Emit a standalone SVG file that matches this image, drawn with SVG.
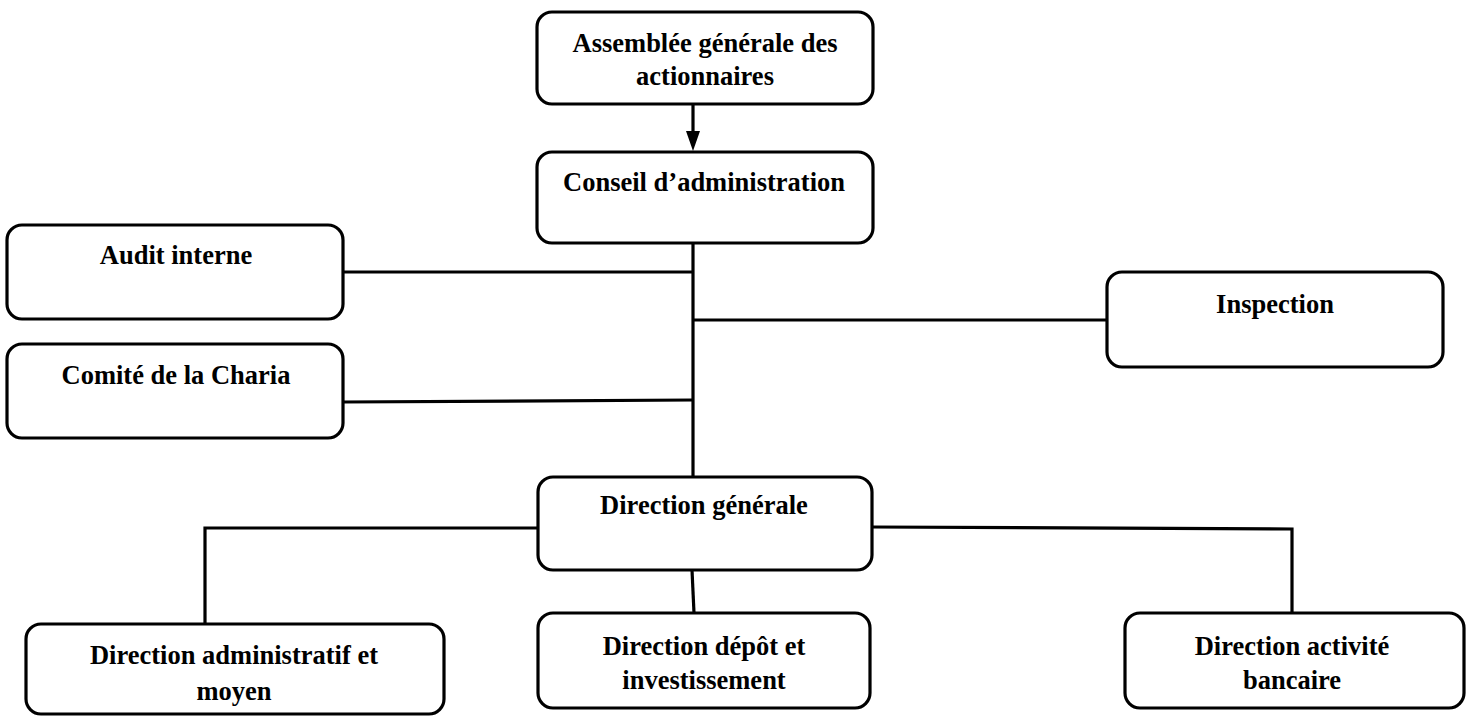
<svg xmlns="http://www.w3.org/2000/svg" width="1468" height="716" viewBox="0 0 1468 716">
<style>
.box{fill:#fff;stroke:#000;stroke-width:3.2}
.t{font-family:"Liberation Serif","Times New Roman",serif;font-weight:bold;font-size:26.5px;fill:#000;text-anchor:middle}
.c{fill:none;stroke:#000;stroke-width:3.2}
</style>
<defs>
<marker id="ah" markerUnits="userSpaceOnUse" markerWidth="16" markerHeight="20" refX="8" refY="19" orient="auto-start-reverse" viewBox="0 0 16 20">
<path d="M1,0 L15,0 L8,19 Z" fill="#000"/>
</marker>
</defs>
<rect width="1468" height="716" fill="#fff"/>
<g id="connectors">
<line class="c" x1="693" y1="105" x2="693" y2="131"/>
<path d="M686,131 L700,131 L693,151 Z" fill="#000"/>
<line class="c" x1="693" y1="243" x2="693" y2="477"/>
<line class="c" x1="343" y1="272" x2="693" y2="272"/>
<line class="c" x1="693" y1="320" x2="1107" y2="320"/>
<line class="c" x1="343" y1="402" x2="693" y2="400"/>
<polyline class="c" points="538,528 205,528 205,624"/>
<polyline class="c" points="872,527 1292,529 1292,613"/>
<line class="c" x1="692" y1="570" x2="694" y2="613"/>
</g>
<g id="assemblee">
<rect class="box" x="537" y="12" width="336" height="92" rx="15"/>
<text class="t" x="705" y="52">Assemblée générale des</text>
<text class="t" x="705" y="85">actionnaires</text>
</g>
<g id="conseil">
<rect class="box" x="537" y="152" width="336" height="91" rx="15"/>
<text class="t" x="704" y="191">Conseil d’administration</text>
</g>
<g id="audit">
<rect class="box" x="7" y="225" width="336" height="94" rx="15"/>
<text class="t" x="176" y="264">Audit interne</text>
</g>
<g id="charia">
<rect class="box" x="7" y="344" width="336" height="94" rx="15"/>
<text class="t" x="176" y="384">Comité de la Charia</text>
</g>
<g id="inspection">
<rect class="box" x="1107" y="272" width="336" height="95" rx="15"/>
<text class="t" x="1275" y="313">Inspection</text>
</g>
<g id="direction-generale">
<rect class="box" x="538" y="477" width="334" height="93" rx="15"/>
<text class="t" x="704" y="514">Direction générale</text>
</g>
<g id="direction-admin">
<rect class="box" x="26" y="624" width="418" height="90" rx="15"/>
<text class="t" x="234" y="664">Direction administratif et</text>
<text class="t" x="234" y="700">moyen</text>
</g>
<g id="direction-depot">
<rect class="box" x="538" y="613" width="332" height="95" rx="15"/>
<text class="t" x="704" y="655">Direction dépôt et</text>
<text class="t" x="704" y="689">investissement</text>
</g>
<g id="direction-bancaire">
<rect class="box" x="1125" y="613" width="339" height="95" rx="15"/>
<text class="t" x="1292" y="655">Direction activité</text>
<text class="t" x="1292" y="689">bancaire</text>
</g>
</svg>
